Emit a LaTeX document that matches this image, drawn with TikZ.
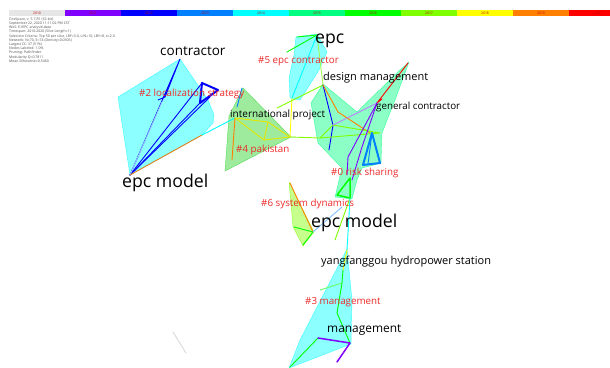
\documentclass[tikz,border=0pt]{standalone}
\usepackage{fontspec}
\setmainfont{Open Sans}
\usepackage{tikz}
\usetikzlibrary{positioning}
\definecolor{y2010}{RGB}{230,230,230}
\definecolor{y2011}{RGB}{128,0,255}
\definecolor{y2012}{RGB}{0,0,255}
\definecolor{y2013}{RGB}{0,128,255}
\definecolor{y2014}{RGB}{0,255,255}
\definecolor{y2015}{RGB}{0,255,128}
\definecolor{y2016}{RGB}{0,255,0}
\definecolor{y2017}{RGB}{128,255,0}
\definecolor{y2018}{RGB}{255,255,0}
\definecolor{y2019}{RGB}{255,128,0}
\definecolor{y2020}{RGB}{255,0,0}
\definecolor{clusterred}{RGB}{238,40,40}
\definecolor{hullgreen}{RGB}{40,210,40}
\tikzset{
		term label/.style={
			anchor=west,
			inner sep=0pt,
			text=black,
			font=\fontsize{#1}{#1}\selectfont
		},
		cluster label/.style={
			anchor=west,
			inner sep=0pt,
			text=clusterred,
			font=\fontsize{9.8}{10}\selectfont
		},
		year label/.style={
			inner sep=0pt,
			text=red!75!black,
			font=\fontsize{3.4}{3.4}\selectfont
		},
		hull/.style={
			fill=#1,
			fill opacity=0.45,
			draw=#1,
			draw opacity=0.7,
			line width=0.4pt,
			line join=round
		},
		link/.style={
			draw=#1,
			line width=0.9pt,
			line join=round,
			line cap=round
		},
		thick link/.style={
			link=#1,
			line width=2pt
		}
	}
\begin{document}
\begin{tikzpicture}[x=1pt, y=-1pt]
	\useasboundingbox (0,0) rectangle (610,367);
	% time bar
	\foreach \yr [count=\i from 0] in {2010,...,2019} {
		\fill [y\yr] (9+56*\i,10) rectangle ++(56,6);
		\node [year label] at (37+56*\i,13) {\yr};
	}
	\fill [y2020] (569,10) rectangle (610,16);
	\node [year label] at (597,13) {2020};
	\node (info) [anchor=north west, inner sep=0pt, align=left, text=black!70,
		font=\fontsize{3.5}{4.2}\selectfont] at (9,17.5)
		{CiteSpace, v. 5.7.R1 (32-bit)\\
		 September 22, 2020 11:11:02 PM CST\\
		 WoS: E:\textbackslash EPC analysis\textbackslash data\\
		 Timespan: 2010-2020 (Slice Length=1)\\
		 Selection Criteria: Top 50 per slice, LRF=3.0, L/N=10, LBY=8, e=2.0\\
		 Network: N=70, E=74 (Density=0.0306)\\
		 Largest CC: 37 (51\%)\\
		 Nodes Labeled: 1.0\%\\
		 Pruning: Pathfinder\\
		 Modularity Q=0.7811\\
		 Mean Silhouette=0.5460};

	% network points
	\coordinate (c2a) at (130,175);
	\coordinate (c2b) at (180,59);
	\coordinate (c2c) at (202,83);
	\coordinate (c2d) at (218,90);
	\coordinate (c2e) at (200,103);
	\coordinate (c2f) at (165,97);
	\coordinate (c2g) at (202,135);
	\coordinate (c5a) at (317,35);
	\coordinate (c5b) at (297,37);
	\coordinate (c5c) at (287,52);
	\coordinate (c5d) at (292,98);
	\coordinate (c4a) at (242,88);
	\coordinate (c4b) at (237,107);
	\coordinate (c4c) at (235,118);
	\coordinate (c4d) at (268,122);
	\coordinate (c4e) at (264,140);
	\coordinate (c4f) at (290,137);
	\coordinate (c4g) at (232,160);
	\coordinate (c4h) at (277,108);
	\coordinate (c0a) at (323,85);
	\coordinate (c0b) at (333,125);
	\coordinate (c0c) at (320,138);
	\coordinate (c0d) at (338,112);
	\coordinate (c0e) at (370,133);
	\coordinate (c0f) at (380,133);
	\coordinate (c0g) at (377,103);
	\coordinate (c0h) at (408,63);
	\coordinate (c0i) at (382,99);
	\coordinate (c0j) at (329,150);
	\coordinate (c0k) at (348,157);
	\coordinate (c0l) at (347,175);
	\coordinate (c0m) at (362,147);
	\coordinate (c0n) at (352,180);
	\coordinate (c0p) at (350,178);
	\coordinate (c0q) at (337,195);
	\coordinate (c0r) at (350,198);
	\coordinate (c0s) at (342,207);
	\coordinate (t1) at (372,133);
	\coordinate (t2) at (363,165);
	\coordinate (t3) at (380,163);
	\coordinate (c6a) at (290,183);
	\coordinate (c6b) at (313,232);
	\coordinate (c6c) at (303,245);
	\coordinate (c6d) at (294,227);
	\coordinate (c6e) at (335,240);
	\coordinate (c3a) at (347,250);
	\coordinate (c3b) at (343,270);
	\coordinate (c3c) at (320,290);
	\coordinate (c3d) at (342,283);
	\coordinate (c3e) at (337,313);
	\coordinate (c3f) at (350,343);
	\coordinate (c3g) at (318,338);
	\coordinate (c3h) at (337,362);
	\coordinate (c3i) at (290,367);

	% cluster hulls
	\path [hull=y2014] (c2a) -- (118,97) -- (c2b) -- (208,100) -- (214,115) -- (213,123) -- (c2g) -- cycle;
	\path [hull=y2014] (296,37) -- (317,34) -- (327,52) -- (319,70) -- (300,100) -- (290,98) -- (289,78) -- (294,55) -- cycle;
	\path [hull=hullgreen] (243,88) -- (291,137) -- (225,171) -- (229,116) -- cycle;
	\path [hull=y2015] (323,84) -- (357,112) -- (400,70) -- (409,62) -- (395,100) -- (382,133) -- (381,163)
		-- (362,168) -- (357,180) -- (352,199) -- (335,197) -- (342,168) -- (318,143) -- (311,103) -- cycle;
	\path [hull=y2017] (289,182) -- (314,232) -- (303,246) -- (293,227) -- cycle;
	\path [hull=y2014] (347,249) -- (352,300) -- (351,344) -- (289,368) -- (300,340) -- cycle;

	% links
	\draw [link=gray!30] (173,332) -- (186,353);
	\draw [link=y2012] (c2a) -- (c2b) -- (c2f) -- (158,100);
	\draw [link=y2012] (c2a) -- (c2c);
	\draw [link=y2012] (c2a) -- (c2e);
	\draw [link=y2012] (c2a) -- (210,97);
	\draw [link=y2013!40] (c2a) -- (162,102);
	\draw [link=y2019!60!brown] (c2a) -- (c2g);
	\draw [thick link=y2012] (c2c) -- (c2d) -- (c2e) -- cycle;
	\draw [link=y2014] (c2g) -- (c4c);
	\draw [link=y2016] (c5c) -- (c5a);
	\draw [link=y2016] (c5b) -- (c5a);
	\draw [link=y2014] (c5a) -- (c5d);
	\draw [link=y2017!70] (c5a) -- (c0a);
	\draw [link=y2013] (c4a) -- (c4b);
	\draw [link=y2019] (c4c) -- (c4g);
	\draw [link=y2018!90!black] (c4c) -- (c4d) -- (c4f) -- (c4e) -- (c4c);
	\draw [link=y2018!90!black] (c4d) -- (c4e);
	\draw [link=y2018] (c4f) -- (c5d);
	\draw [link=y2017] (c4f) -- (c0c);
	\draw [link=y2017] (c4h) -- (c0a);
	\draw [link=y2012] (c0a) -- (c0b) -- (c0j);
	\draw [link=y2019] (c0a) -- (c0d) -- (c0e);
	\draw [link=y2017] (c0c) -- (c0b) -- (c0f) -- (c0c);
	\draw [link=y2011!50] (c0b) -- (c0g);
	\draw [link=y2020] (c0h) -- (c0g) -- (c0i);
	\draw [link=y2011] (c0g) -- (c0k) -- (c0l);
	\draw [link=y2011] (c0g) -- (c0m) -- (c0n);
	\draw [thick link=y2013] (t1) -- (t2) -- (t3) -- cycle;
	\draw [link=y2013] (t1) -- (368,164);
	\draw [link=y2016, line width=1.5pt] (c0p) -- (c0q) -- (c0r) -- cycle;
	\draw [link=y2019] (c6a) -- (c6b);
	\draw [link=y2016] (c6d) -- (c6b) -- (c6c);
	\draw [link=y2013!50] (c6b) -- (c0s);
	\draw [link=y2017] (c0r) -- (c6e);
	\draw [link=y2014] (c0r) -- (c3a);
	\draw [link=y2018] (c3a) -- (c3b);
	\draw [link=y2016!60] (c3c) -- (c3d);
	\draw [link=y2016] (c3b) -- (c3d) -- (c3e) -- (c3f);
	\draw [link=y2016] (c3g) -- (c3i);
	\draw [link=y2011, line width=1.5pt] (c3g) -- (c3f) -- (c3h);

	% term labels
	\node (contractor) [term label=13.5] at (160,51) {contractor};
	\node (epc) [term label=17.6] at (315,41) {epc};
	\node (designMgmt) [term label=11] at (323,78) {design management};
	\node (generalContractor) [term label=9.8] at (376,107) {general contractor};
	\node (intlProject) [term label=10] at (230,115) {international project};
	\node (epcModelA) [term label=17.7] at (122,183) {epc model};
	\node (epcModelB) [term label=17.7] at (311,223) {epc model};
	\node (yangfanggou) [term label=11] at (321,262) {yangfanggou hydropower station};
	\node (management) [term label=11.9] at (327,330) {management};

	% cluster labels
	\node (cl5) [cluster label] at (258,61) {\#5 epc contractor};
	\node (cl2) [cluster label] at (139,94) {\#2 localization strategy};
	\node (cl4) [cluster label] at (236,150) {\#4 pakistan};
	\node (cl0) [cluster label] at (331,173) {\#0 risk sharing};
	\node (cl6) [cluster label] at (261,204) {\#6 system dynamics};
	\node (cl3) [cluster label] at (305,302) {\#3 management};
\end{tikzpicture}
\end{document}
